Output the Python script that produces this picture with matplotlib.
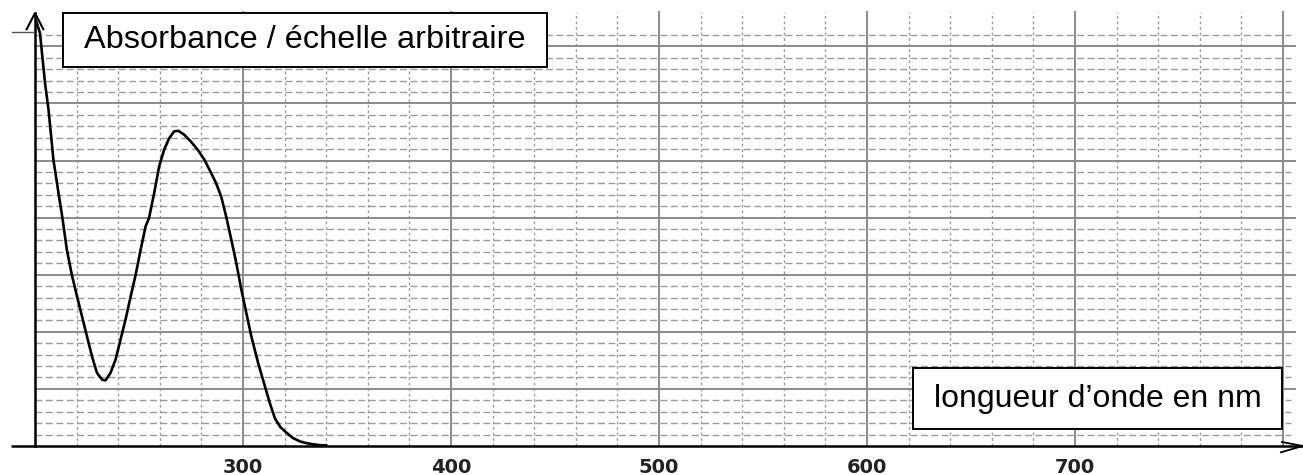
import matplotlib
matplotlib.use("Agg")
import matplotlib.pyplot as plt
from matplotlib.patches import Rectangle
import numpy as np

# ---- data ----
wavelength = [200.5, 202.4, 204.8, 206.5, 208.9, 211.3, 213.2, 215.3, 217.7, 220.2,
              222.6, 225.0, 227.4, 229.8, 232.3, 233.9, 236.3, 238.7, 241.1, 243.5,
              246.0, 248.4, 250.8, 253.2, 254.8, 257.3, 259.7, 262.1, 264.5, 266.9,
              268.9, 271.8, 275.0, 278.2, 281.5, 284.7, 287.1, 289.5, 291.9, 294.4,
              296.8, 299.2, 301.6, 304.0, 307.3, 310.5, 313.0, 315.4, 318.0, 321.0,
              324.0, 327.4, 330.5, 333.7, 337.0, 340.2]
absorbance = [7.45, 7.23, 6.36, 5.89, 5.00, 4.43, 3.99, 3.44, 3.00, 2.62,
              2.27, 1.92, 1.57, 1.28, 1.16, 1.15, 1.28, 1.51, 1.86, 2.21,
              2.62, 3.00, 3.44, 3.85, 3.99, 4.43, 4.90, 5.19, 5.39, 5.51,
              5.52, 5.45, 5.33, 5.19, 5.01, 4.78, 4.60, 4.37, 4.02, 3.61,
              3.20, 2.74, 2.33, 1.92, 1.45, 1.05, 0.74, 0.48, 0.33, 0.23,
              0.14, 0.08, 0.05, 0.03, 0.015, 0.01]
tick_values = [300, 400, 500, 600, 700]
tick_labels = ["300", "400", "500", "600", "700"]
y_label = "Absorbance / échelle arbitraire"
x_label = "longueur d\u2019onde en nm"

W, H = 1303, 475
fig = plt.figure(figsize=(W / 100, H / 100), dpi=100)
ax = fig.add_axes([0, 0, 1, 1])
ax.set_axis_off()

# pixel mapping
X0_PX, X0 = 35, 200.0
PX_PER_NM = 2.08
Y0_PX, PX_PER_UNIT = 446, 57.1
ax.set_xlim(X0 - X0_PX / PX_PER_NM, X0 + (W - X0_PX) / PX_PER_NM)
ax.set_ylim((Y0_PX - H) / PX_PER_UNIT, Y0_PX / PX_PER_UNIT)

ytop = 7.6
grid_col = "#8a8a8a"

# minor dashed horizontal lines
for k in range(1, 37):
    yv = k * 0.2
    if abs(yv - round(yv)) < 1e-6:
        continue
    ax.plot([200, 804], [yv, yv], color="#9a9a9a", lw=1.0,
            dashes=(5, 2.5), zorder=1)
# minor dotted vertical lines
for xv in np.arange(220, 800, 20):
    if xv % 100 == 0:
        continue
    ax.plot([xv, xv], [0, ytop], color="#9a9a9a", lw=1.0,
            dashes=(2, 2), zorder=1)
# major solid horizontal
for yv in range(1, 8):
    ax.plot([200, 806], [yv, yv], color=grid_col, lw=1.4, zorder=2)
# major solid vertical
for xv in range(300, 801, 100):
    ax.plot([xv, xv], [0, ytop], color=grid_col, lw=1.4, zorder=2)

# axes
ax.plot([188.5, 809.5], [0, 0], color="black", lw=1.8, zorder=5, solid_capstyle="butt")
ax.plot([200, 200], [0, 7.58], color="black", lw=1.8, zorder=5)
# arrows
ax.plot([196.0, 200, 204.0], [7.3, 7.58, 7.3], color="black", lw=1.5, zorder=5)
ax.plot([799.5, 809.5, 799.0], [0.07, 0.0, -0.11], color="black", lw=1.3, zorder=5)
# small stroke left of y axis
ax.plot([189.0, 199.0], [7.25, 7.25], color="#555555", lw=1.0, zorder=5)

# curve
ax.plot(wavelength, absorbance, color="black", lw=1.9, zorder=6,
        solid_joinstyle="round", solid_capstyle="round")

# tick labels
for v, lab in zip(tick_values, tick_labels):
    ax.text(v, -0.37, lab, ha="center", va="center", fontsize=14,
            fontweight="bold", color="#222222", family="DejaVu Sans")

def px_box(x0, y0, x1, y1, text, fs):
    ax.add_patch(Rectangle((x0 / W, 1 - y1 / H), (x1 - x0) / W, (y1 - y0) / H,
                           transform=ax.transAxes, facecolor="white",
                           edgecolor="black", lw=1.4, zorder=8))
    ax.text((x0 + x1) / 2 / W, 1 - (y0 + y1) / 2 / H, text, transform=ax.transAxes,
            ha="center", va="center", fontsize=fs, family="Liberation Sans",
            color="black", zorder=9)

px_box(63, 13, 547, 67, y_label, 23.4)
px_box(913, 368, 1282, 429, x_label, 23)

fig.savefig("out.png", dpi=100)
